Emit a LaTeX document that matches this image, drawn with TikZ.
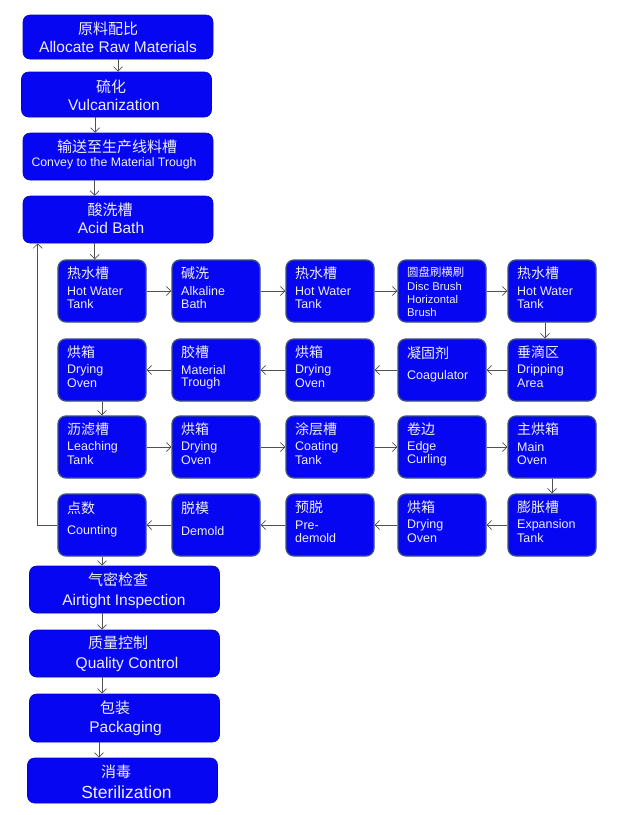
\documentclass[tikz,border=0pt]{standalone}
\usepackage{fontspec}
\setmainfont{Liberation Sans}
\newfontfamily\cjk{Noto Sans CJK SC}
\usetikzlibrary{arrows.meta,calc}
\definecolor{boxblue}{RGB}{6,6,242}
\definecolor{boxedge}{RGB}{60,80,130}
\definecolor{txt}{RGB}{238,238,248}
\definecolor{arrgray}{RGB}{80,80,80}
\tikzset{
  bigbox/.style={fill=boxblue, draw=boxblue!80!black, line width=0.6pt, rounded corners=7pt, minimum width=190pt, inner sep=0pt},
  gbox/.style={fill=boxblue, draw=boxedge, line width=1.3pt, rounded corners=8pt, minimum width=88pt, minimum height=62pt, inner sep=0pt},
  bcn/.style={text=txt, inner sep=0pt, font=\cjk\fontsize{15}{17}\selectfont},
  ben/.style={text=txt, inner sep=0pt, font=\fontsize{15.5}{18}\selectfont},
  gcn/.style={text=txt, inner sep=0pt, anchor=west, font=\cjk\fontsize{14}{16}\selectfont},
  gen/.style={text=txt, inner sep=0pt, anchor=west, font=\fontsize{12.5}{14}\selectfont},
  arr/.style={draw=arrgray, line width=0.7pt, -{Straight Barb[length=4.5pt,width=9pt]}}
}
\newcommand\gbxthree[6]{%
  \node[gbox] (#1) at (#2+44,#3+31) {};
  \node[gcn] (#1c) at (#2+9,#3+13) {#4};
  \node[gen] (#1e) at (#2+9,#3+31) {#5};
  \node[gen] (#1f) at (#2+9,#3+44.5) {#6};
}
\newcommand\gbxtwo[5]{%
  \node[gbox] (#1) at (#2+44,#3+31) {};
  \node[gcn] (#1c) at (#2+9,#3+14) {#4};
  \node[gen] (#1e) at (#2+9,#3+37) {#5};
}
\begin{document}
\begin{tikzpicture}[x=1pt,y=-1pt]
\useasboundingbox (0,0) rectangle (621,815);
% top column
\node[bigbox, minimum height=44pt] (alloc) at (118,37) {};
\node[bcn] (allocc) at (108,29) {原料配比};
\node[ben] (alloce) at (118,47) {Allocate Raw Materials};
\node[bigbox, minimum height=45pt] (vulc) at (116.5,94.5) {};
\node[bcn] (vulcc) at (111,87) {硫化};
\node[ben] (vulce) at (114,105) {Vulcanization};
\node[bigbox, minimum height=47pt] (conv) at (118,156.5) {};
\node[bcn] (convc) at (117,147) {输送至生产线料槽};
\node[text=txt, inner sep=0pt, font=\fontsize{12.3}{14}\selectfont] (conve) at (114,163) {Convey to the Material Trough};
\node[bigbox, minimum height=47pt] (acid) at (118,219.5) {};
\node[bcn] (acidc) at (110,210) {酸洗槽};
\node[ben] (acide) at (111,228) {Acid Bath};
% grid row 1
\gbxthree{a1}{58}{260}{热水槽}{Hot Water}{Tank}
\gbxthree{a2}{172}{260}{碱洗}{Alkaline}{Bath}
\gbxthree{a3}{286}{260}{热水槽}{Hot Water}{Tank}
\node[gbox] (a4) at (442,291) {};
\node[gcn, font=\cjk\fontsize{11.4}{13}\selectfont] (a4c) at (407,272) {圆盘刷横刷};
\node[gen, font=\fontsize{11.3}{13}\selectfont] (a4e) at (407,286) {Disc Brush};
\node[gen, font=\fontsize{11.3}{13}\selectfont] (a4f) at (407,299) {Horizontal};
\node[gen, font=\fontsize{11.3}{13}\selectfont] (a4g) at (407,312) {Brush};
\gbxthree{a5}{508}{260}{热水槽}{Hot Water}{Tank}
% row 2
\gbxthree{b1}{58}{339}{烘箱}{Drying}{Oven}
\gbxthree{b2}{172}{339}{胶槽}{Material}{Trough}
\gbxthree{b3}{286}{339}{烘箱}{Drying}{Oven}
\gbxtwo{b4}{398}{339}{凝固剂}{Coagulator}
\gbxthree{b5}{508}{339}{垂滴区}{Dripping}{Area}
% row 3
\gbxthree{c1}{58}{416}{沥滤槽}{Leaching}{Tank}
\gbxthree{c2}{172}{416}{烘箱}{Drying}{Oven}
\gbxthree{c3}{286}{416}{涂层槽}{Coating}{Tank}
\gbxthree{c4}{398}{416}{卷边}{Edge}{Curling}
\gbxthree{c5}{508}{416}{主烘箱}{Main}{Oven}
% row 4
\gbxtwo{d1}{58}{494}{点数}{Counting}
\gbxtwo{d2}{172}{494}{脱模}{Demold}
\gbxthree{d3}{286}{494}{预脱}{Pre-}{demold}
\gbxthree{d4}{398}{494}{烘箱}{Drying}{Oven}
\gbxthree{d5}{508}{494}{膨胀槽}{Expansion}{Tank}
% bottom column
\node[bigbox, minimum height=47pt] (air) at (124.5,589.5) {};
\node[bcn] (airc) at (118,580) {气密检查};
\node[ben] (aire) at (124,601) {Airtight Inspection};
\node[bigbox, minimum height=47pt] (qual) at (124.5,653.5) {};
\node[bcn] (qualc) at (118,643) {质量控制};
\node[ben] (quale) at (127,664) {Quality Control};
\node[bigbox, minimum height=48pt] (pack) at (124.5,718) {};
\node[bcn] (packc) at (115,708) {包装};
\node[ben] (packe) at (125.5,728) {Packaging};
\node[bigbox, minimum height=45pt] (ster) at (122.5,780.5) {};
\node[bcn] (sterc) at (116,772) {消毒};
\node[text=txt, inner sep=0pt, font=\fontsize{17.5}{20}\selectfont] (stere) at (126.5,792) {Sterilization};
% connectors top
\draw[arr] (alloc.south) -- (vulc.north -| alloc.south);
\draw[arr] ([xshift=74pt]vulc.south west) -- ([xshift=74pt]vulc.south west |- conv.north);
\draw[arr] ([xshift=72pt]conv.south west) -- ([xshift=72pt]conv.south west |- acid.north);
\draw[arr] ([xshift=72pt]acid.south west) -- ([xshift=72pt]acid.south west |- a1.north);
% row 1
\draw[arr] (a1.east) -- (a2.west);
\draw[arr] (a2.east) -- (a3.west);
\draw[arr] (a3.east) -- (a4.west);
\draw[arr] (a4.east) -- (a5.west);
\draw[arr] ([xshift=-7pt]a5.south) -- ([xshift=-7pt]b5.north);
% row 2
\draw[arr] (b5.west) -- (b4.east);
\draw[arr] (b4.west) -- (b3.east);
\draw[arr] (b3.west) -- (b2.east);
\draw[arr] (b2.west) -- (b1.east);
\draw[arr] (b1.south) -- (c1.north);
% row 3
\draw[arr] (c1.east) -- (c2.west);
\draw[arr] (c2.east) -- (c3.west);
\draw[arr] (c3.east) -- (c4.west);
\draw[arr] (c4.east) -- (c5.west);
\draw[arr] (c5.south) -- (d5.north);
% row 4
\draw[arr] (d5.west) -- (d4.east);
\draw[arr] (d4.west) -- (d3.east);
\draw[arr] (d3.west) -- (d2.east);
\draw[arr] (d2.west) -- (d1.east);
% feedback
\draw[arr] (d1.west) -| ([xshift=15pt]acid.south west);
% bottom
\draw[arr] (d1.south) -- (d1.south |- air.north);
\draw[arr] ([xshift=-22.5pt]air.south) -- ([xshift=-22.5pt]air.south |- qual.north);
\draw[arr] ([xshift=-22.5pt]qual.south) -- ([xshift=-22.5pt]qual.south |- pack.north);
\draw[arr] ([xshift=-25.5pt]pack.south) -- ([xshift=-25.5pt]pack.south |- ster.north);
\end{tikzpicture}
\end{document}
